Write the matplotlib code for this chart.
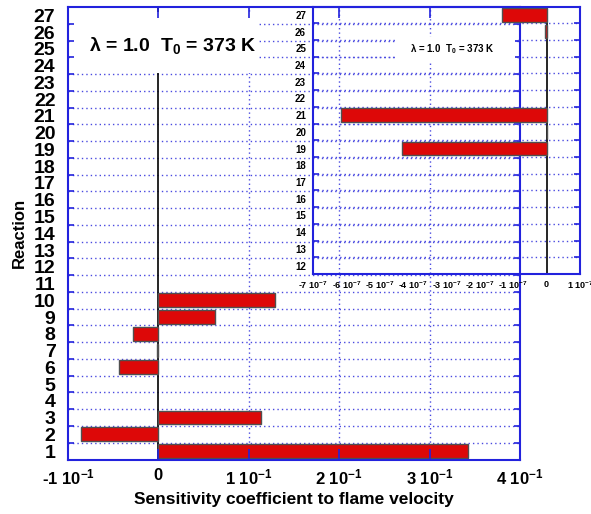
import numpy as np
import matplotlib
matplotlib.use("Agg")
import matplotlib.pyplot as plt
from matplotlib.patches import Rectangle

plt.rcParams['font.family'] = ['Liberation Sans', 'DejaVu Sans']
plt.rcParams['font.weight'] = 'bold'
plt.rcParams['mathtext.fontset'] = 'custom'
plt.rcParams['mathtext.rm'] = 'Liberation Sans:bold'
plt.rcParams['mathtext.it'] = 'Liberation Sans:bold'
plt.rcParams['mathtext.bf'] = 'Liberation Sans:bold'
plt.rcParams['mathtext.default'] = 'regular'

# ---- data ----
reactions = np.arange(1, 28)
main_values = [0.342, -0.0856, 0.113, 0.0, 0.0, -0.0433, -0.001, -0.0278, 0.0622, 0.129,
               0.0, 0.0, 0.0, 0.0, 0.0, 0.0, 0.0, 0.0, 0.0, 0.0,
               0.0, 0.0, 0.0, 0.0, 0.0, 0.0, 0.0]
main_xticks = [-0.1, 0.0, 0.1, 0.2, 0.3, 0.4]
main_xticklabels = ['-1 10$^{-1}$', '0', '1 10$^{-1}$', '2 10$^{-1}$', '3 10$^{-1}$', '4 10$^{-1}$']

inset_reactions = np.arange(12, 28)
inset_values = [0.0, 0.0, 0.0, 0.0, 0.0, 0.0, 0.0, -4.32e-7, 0.01e-7, -6.15e-7,
                0.0, 0.0, 0.0, 0.0, -0.04e-7, -1.35e-7]
inset_xticks = [-7e-7, -6e-7, -5e-7, -4e-7, -3e-7, -2e-7, -1e-7, 0.0, 1e-7]
inset_xticklabels = ['-7 10$^{-7}$', '-6 10$^{-7}$', '-5 10$^{-7}$', '-4 10$^{-7}$',
                     '-3 10$^{-7}$', '-2 10$^{-7}$', '-1 10$^{-7}$', '0', '1 10$^{-7}$']

label_text = r'$\mathregular{\lambda}$ = 1.0  T$_0$ = 373 K'

BLUE = '#2222dd'
GRID = '#4a4ae0'
RED = '#dd0808'
EDGE = '#505050'

fig = plt.figure(figsize=(5.91, 5.14), dpi=100)
ax = fig.add_axes([68/591, (514-459.5)/514, (520-68)/591, (459.5-7)/514])

vals = np.array(main_values)
m = vals != 0
# grid lines
for yb in np.arange(reactions.min() + 0.5, reactions.max(), 1.0):
    ax.axhline(yb, color=GRID, lw=1.0, ls=(0, (1, 2.2)), zorder=1)
for xg in main_xticks[2:-1]:
    ax.axvline(xg, color=GRID, lw=1.0, ls=(0, (1, 2.2)), zorder=1)
ax.axvline(0, color='black', lw=1.2, zorder=1.2)
ax.add_patch(Rectangle((0.004, 0.855), 0.416, 0.135, transform=ax.transAxes,
                       facecolor='white', edgecolor='none', zorder=2))
ax.barh(reactions[m], vals[m], height=0.82, color=RED, edgecolor=EDGE, lw=1.0, zorder=2.2)
ax.text(0.232, 0.915, label_text, transform=ax.transAxes, ha='center', va='center',
        fontsize=14, fontweight='bold', zorder=3)

ax.set_xlim(-0.1, 0.4)
ax.set_ylim(0.5, 27.5)
ax.set_xticks(main_xticks)
ax.set_xticklabels(main_xticklabels, fontsize=12, fontweight='bold')
ax.set_yticks(reactions)
ax.set_yticklabels([str(r) for r in reactions], fontsize=14, fontweight='bold')
ax.set_yticks(np.arange(0.5, 28, 1.0), minor=True)
ax.tick_params(axis='y', which='major', length=0, pad=9)
ax.tick_params(axis='y', which='minor', direction='in', length=4, color=BLUE,
               left=True, right=True, width=1.2)
ax.tick_params(axis='x', which='major', direction='in', length=8, color=BLUE,
               top=True, bottom=True, width=1.2, pad=6)
ax.set_axisbelow(False)
for s in ax.spines.values():
    s.set_color(BLUE)
    s.set_linewidth(1.5)
ax.set_xlabel('Sensitivity coefficient to flame velocity', fontsize=12.5, fontweight='bold', labelpad=3)
ax.set_ylabel('Reaction', fontsize=12, fontweight='bold', labelpad=5)

# ---- inset ----
ax2 = fig.add_axes([313/591, (514-274)/514, (580-313)/591, (274-6.5)/514])
ax2.set_facecolor('none')
iv = np.array(inset_values)
mi = iv != 0
for yb in np.arange(inset_reactions.min() + 0.5, inset_reactions.max(), 1.0):
    ax2.axhline(yb, color=GRID, lw=1.0, ls=(0, (1, 2.2)), zorder=1)
ax2.axvline(0, color='black', lw=1.2, zorder=1.2)
ax2.add_patch(Rectangle((0.315, 0.79), 0.44, 0.095, transform=ax2.transAxes,
                        facecolor='white', edgecolor='none', zorder=2))
ax2.barh(inset_reactions[mi], iv[mi], height=0.82, color=RED, edgecolor=EDGE, lw=1.0, zorder=2.2)
ax2.text(0.52, 0.84, label_text, transform=ax2.transAxes, ha='center', va='center',
         fontsize=7, fontweight='bold', zorder=3)
ax2.set_xlim(-7e-7, 1e-7)
ax2.set_ylim(11.5, 27.5)
ax2.set_xticks(inset_xticks)
ax2.set_xticklabels(inset_xticklabels, fontsize=6.5, fontweight='bold')
ax2.set_yticks(inset_reactions)
ax2.set_yticklabels([str(r) for r in inset_reactions], fontsize=7, fontweight='bold')
ax2.set_yticks(np.arange(11.5, 28, 1.0), minor=True)
ax2.tick_params(axis='y', which='major', length=0, pad=5)
ax2.tick_params(axis='y', which='minor', direction='in', length=4, color=BLUE,
                left=True, right=True, width=1.2)
ax2.tick_params(axis='x', which='major', direction='in', length=0, pad=4)
for s in ax2.spines.values():
    s.set_color(BLUE)
    s.set_linewidth(1.5)

fig.savefig('out.png', dpi=100)
